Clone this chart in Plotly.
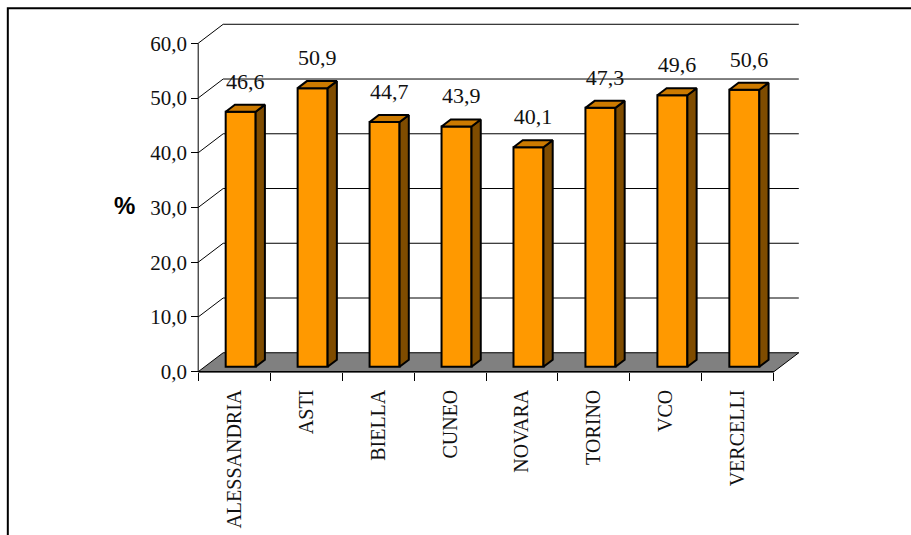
import plotly.graph_objects as go

# ---- data ----
CATEGORIES = ["ALESSANDRIA", "ASTI", "BIELLA", "CUNEO", "NOVARA", "TORINO", "VCO", "VERCELLI"]
VALUES = [46.6, 50.9, 44.7, 43.9, 40.1, 47.3, 49.6, 50.6]
Y_TICKS = [0, 10, 20, 30, 40, 50, 60]
Y_LABEL = "%"

# ---- geometry / style ----
W, H = 911, 535
N = len(CATEGORIES)
YMAX = Y_TICKS[-1]
X_PER = 72.0        # px per category
Y_PER = 5.4833      # px per value unit
ORIGIN = (198, 372) # pixel of front-floor origin
DX = 25 / X_PER     # depth offset (x units)
DY = 19 / Y_PER     # depth offset (y units)
F0 = 0.26           # depth fraction where bar front sits
FD = 0.37           # bar depth fraction
BW = 30 / X_PER     # bar width
PADX, PADY = 0.1, 0.6

ml = ORIGIN[0] - PADX * X_PER
mr = W - (ORIGIN[0] + (N + DX + PADX) * X_PER)
mb = H - (ORIGIN[1] + PADY * Y_PER)
mt = ORIGIN[1] - (YMAX + DY + PADY) * Y_PER
PW, PH = W - ml - mr, H - mt - mb


def paper(px, py):
    return (px - ml) / PW, (H - mb - py) / PH


FRONT = "#FF9900"
TOP = "#CC7A00"
SIDE = "#7F4C00"
FLOOR = "#808080"
SERIF = "Liberation Serif"

centers = [i + 0.5 + F0 * DX for i in range(N)]
base = F0 * DY
sdx, sdy = FD * DX, FD * DY

fig = go.Figure()

# front faces
fig.add_trace(go.Bar(
    x=centers, y=VALUES, base=[base] * N, width=BW,
    marker=dict(color=FRONT, line=dict(color="black", width=2)),
    hoverinfo="skip", showlegend=False,
))

# side faces
sx, sy = [], []
for c, v in zip(centers, VALUES):
    xr_ = c + BW / 2
    sx += [xr_, xr_ + sdx, xr_ + sdx, xr_, xr_, None]
    sy += [base, base + sdy, base + v + sdy, base + v, base, None]
fig.add_trace(go.Scatter(x=sx, y=sy, mode="lines", fill="toself", fillcolor=SIDE,
                         line=dict(color="black", width=2), hoverinfo="skip", showlegend=False))

# top faces
tx, ty = [], []
for c, v in zip(centers, VALUES):
    xl_, xr_ = c - BW / 2, c + BW / 2
    top = base + v
    tx += [xl_, xr_, xr_ + sdx, xl_ + sdx, xl_, None]
    ty += [top, top, top + sdy, top + sdy, top, None]
fig.add_trace(go.Scatter(x=tx, y=ty, mode="lines", fill="toself", fillcolor=TOP,
                         line=dict(color="black", width=2), hoverinfo="skip", showlegend=False))

# data labels
fig.add_trace(go.Scatter(
    x=[c + sdx / 2 for c in centers], y=[base + v + 5.2 for v in VALUES],
    mode="text", text=VALUES, texttemplate="%{text:.1f}", textposition="middle center",
    textfont=dict(family=SERIF, size=22, color="#111111"),
    cliponaxis=False, hoverinfo="skip", showlegend=False,
))

shapes = []
# floor
shapes.append(dict(type="path", xref="x", yref="y", layer="below",
                   path=f"M 0,0 L {N},0 L {N+DX},{DY} L {DX},{DY} Z",
                   fillcolor=FLOOR, line=dict(color="black", width=1)))
# wall gridlines
for v in Y_TICKS[1:]:
    shapes.append(dict(type="path", xref="x", yref="y", layer="below",
                       path=f"M 0,{v} L {DX},{v+DY} L {N+DX},{v+DY}",
                       line=dict(color="black", width=1)))
# front axes
shapes.append(dict(type="line", xref="x", yref="y", layer="below",
                   x0=0, y0=0, x1=0, y1=YMAX, line=dict(color="black", width=1)))
shapes.append(dict(type="line", xref="x", yref="y", layer="below",
                   x0=0, y0=0, x1=N, y1=0, line=dict(color="black", width=1.5)))
# outer frame
bx0, by0 = paper(7.5, 8)
bx1, by1 = paper(W + 20, H + 20)
shapes.append(dict(type="rect", xref="paper", yref="paper", x0=bx0, y0=by1, x1=bx1, y1=by0,
                   line=dict(color="black", width=2), fillcolor="rgba(0,0,0,0)"))

ax, ay = paper(124.5, 206)

fig.update_layout(
    width=W, height=H,
    margin=dict(l=ml, r=mr, t=mt, b=mb, pad=0, autoexpand=False),
    paper_bgcolor="white", plot_bgcolor="white",
    separators=",.",
    showlegend=False,
    shapes=shapes,
    annotations=[dict(text=f"<b>{Y_LABEL}</b>", xref="paper", yref="paper", x=ax, y=ay,
                      showarrow=False, xanchor="center", yanchor="middle",
                      font=dict(family="Liberation Sans", size=24, color="black"))],
    xaxis=dict(
        range=[-PADX, N + DX + PADX], anchor="free", position=PADY / (YMAX + DY + 2 * PADY),
        tickmode="array", tickvals=[i + 0.5 for i in range(N)], ticktext=CATEGORIES,
        tickangle=-90, ticks="outside", ticklen=9, tickcolor="rgba(0,0,0,0)",
        tickfont=dict(family=SERIF, size=20, color="#111111"),
        minor=dict(tickmode="array", tickvals=list(range(N + 1)), ticks="outside",
                   ticklen=8, tickwidth=1, tickcolor="black", showgrid=False),
        showgrid=False, zeroline=False, showline=False, fixedrange=True,
    ),
    yaxis=dict(
        range=[-PADY, YMAX + DY + PADY], anchor="free", position=PADX / (N + DX + 2 * PADX),
        tickmode="array", tickvals=Y_TICKS, tickformat=".1f",
        ticks="outside", ticklen=7, tickwidth=1, tickcolor="black",
        tickfont=dict(family=SERIF, size=21, color="#111111"),
        showgrid=False, zeroline=False, showline=False, fixedrange=True,
    ),
)

fig.write_html("out.html")
